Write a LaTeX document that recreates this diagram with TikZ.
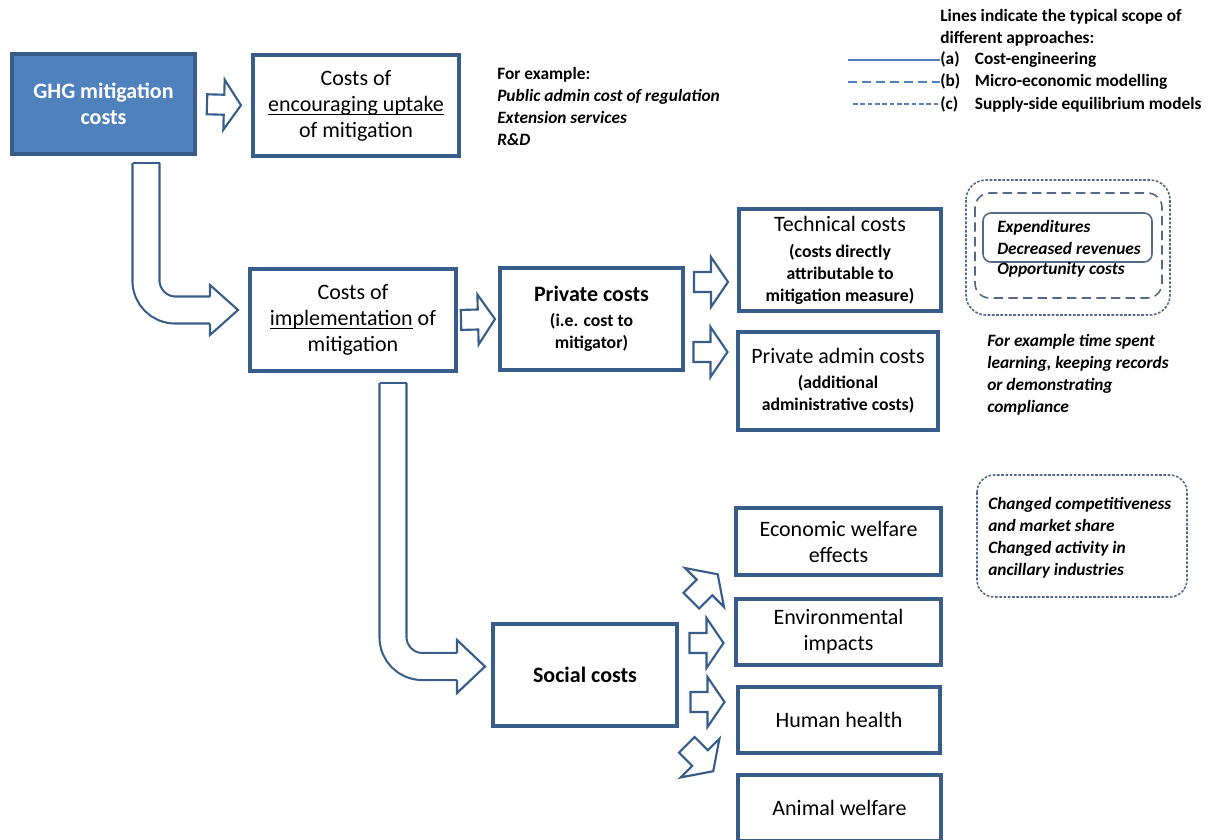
\documentclass[tikz,border=0pt]{standalone}
\usepackage{fontspec}
\setmainfont{Carlito}
\usepackage{tikz}
\usetikzlibrary{calc}

\definecolor{boxblue}{RGB}{56,93,138}
\definecolor{ghgfill}{RGB}{79,129,189}
\definecolor{lineblue}{RGB}{79,129,189}
\definecolor{scopegrey}{RGB}{84,106,138}

\newcommand{\smalltxt}{\fontsize{13.3}{16.5}\selectfont\bfseries}
\newcommand{\ulword}[1]{\setbox0\hbox{#1}\rlap{\rule[-2.6pt]{\wd0}{0.7pt}}\box0\relax}

\tikzset{
  box/.style={draw=boxblue, line width=3pt, fill=white, align=center, inner sep=2pt,
    font=\fontsize{16.5}{19.5}\selectfont},
  subbox/.style={box, font=\fontsize{16.5}{16.5}\selectfont},
  note/.style={anchor=west, align=left, inner sep=0pt,
    font=\fontsize{13}{16.5}\selectfont\bfseries\itshape},
  legtxt/.style={anchor=west, align=left, inner sep=0pt,
    font=\fontsize{13}{16.5}\selectfont\bfseries},
  arrline/.style={draw=boxblue, line width=1.6pt, line join=miter},
  fatshaft/.style={draw=boxblue, line width=1.6pt, double=white, double distance=18.65pt},
  fathead/.style={arrline, fill=white},
  pics/blockarr/.style={code={
    \draw[arrline, fill=white] (-17,-10) -- (0,-10) -- (0,-25) -- (17,0) -- (0,25) -- (0,10) -- (-17,10) -- cycle;}},
}

\begin{document}
\begin{tikzpicture}[x=0.75pt,y=-0.75pt]
\useasboundingbox (0,0) rectangle (1212,839);

% boxes
\node[box, fill=ghgfill, text=white, font=\fontsize{16.5}{19.5}\selectfont\bfseries,
  minimum width=137.25pt, minimum height=75pt] (ghg) at (103.5,104) {GHG mitigation\\costs};
\node[box, minimum width=154.5pt, minimum height=75.75pt] (enc) at (356,105.5) {Costs of\\\ulword{encouraging uptake}\\of mitigation};
\node[box, minimum width=154.5pt, minimum height=76.5pt] (imp) at (353,320) {Costs of\\\ulword{implementation} of\\mitigation};
\node[subbox, minimum width=137.25pt, minimum height=76.5pt] (priv) at (591.5,319) {\textbf{Private costs}\\[2pt]\smalltxt (i.e. cost to\\\smalltxt mitigator)};
\node[subbox, minimum width=151.5pt, minimum height=76.5pt] (tech) at (840,260) {Technical costs\\[3pt]\smalltxt (costs directly\\\smalltxt attributable to\\\smalltxt mitigation measure)};
\node[subbox, minimum width=150pt, minimum height=73.5pt] (padm) at (838,381) {Private admin costs\\[2pt]\smalltxt (additional\\\smalltxt administrative costs)};
\node[box, minimum width=138pt, minimum height=76.5pt] (soc) at (585,675) {\textbf{Social costs}};
\node[box, minimum width=153.75pt, minimum height=50.25pt] (econ) at (838.5,541.5) {Economic welfare\\effects};
\node[box, minimum width=153.75pt, minimum height=49.5pt] (env) at (838.5,632) {Environmental\\impacts};
\node[box, minimum width=151.5pt, minimum height=49.5pt] (hum) at (839,720) {Human health};
\node[box, minimum width=152.25pt, minimum height=49.5pt] (anim) at (839.5,808) {Animal welfare};

% block arrows
\path (ghg.east) -- (enc.west) pic[pos=.5, sloped] {blockarr};
\path (imp.east) -- (priv.west) pic[pos=.5, sloped] {blockarr};
\path ($(priv.east)+(0,-37)$) -- ($(tech.west)+(0,22)$) pic[pos=.5, sloped] {blockarr};
\path ($(priv.east)+(0,33)$) -- ($(padm.west)+(0,-29)$) pic[pos=.5, sloped] {blockarr};
\pic[rotate=45, scale=1.1] at ($($(soc.north east)+(-2,-4)$)!.5!($(econ.south west)+(-2,-20)$)$) {blockarr};
\path ($(soc.east)+(0,-32)$) -- ($(env.west)+(0,11)$) pic[pos=.5, sloped] {blockarr};
\path ($(soc.east)+(0,27)$) -- ($(hum.west)+(0,-18)$) pic[pos=.5, sloped] {blockarr};
\pic[rotate=-45, scale=1.1] at ($($(soc.south east)+(-4,5)$)!.5!($(anim.north west)+(-11,10)$)$) {blockarr};

% bent arrows
\draw[fatshaft, rounded corners=22pt] ($(ghg.south east)+(-51,7)$) |- ($(imp.west)+(-38,-10)$);
\draw[arrline] ($(ghg.south east)+(-64.5,7)$) -- ++(27,0);
\draw[fathead] ($(imp.west)+(-38,-23.5)$) -- ++(0,-11.5) -- ($(imp.west)+(-10,-10)$) -- ($(imp.west)+(-38,15)$) -- ++(0,-11.5);

\draw[fatshaft, rounded corners=22pt] ($(imp.south east)+(-65,10)$) |- ($(soc.west)+(-34,-8.5)$);
\draw[arrline] ($(imp.south east)+(-78.5,10)$) -- ++(27,0);
\draw[fathead] ($(soc.west)+(-34,-22)$) -- ++(0,-13) -- ($(soc.west)+(-6,-8.5)$) -- ($(soc.west)+(-34,18)$) -- ++(0,-13);

% notes
\node[note] (forex) at (497,106) {\upshape For example:\\Public admin cost of regulation\\Extension services\\R\&D};

% legend
\node[legtxt] (legtitle) at (940,28) {Lines indicate the typical scope of\\different approaches:};
\node[legtxt] (lga) at (940,60) {\makebox[26pt][l]{(a)}Cost-engineering};
\node[legtxt] (lgb) at (940,82) {\makebox[26pt][l]{(b)}Micro-economic modelling};
\node[legtxt] (lgc) at (940,104) {\makebox[26pt][l]{(c)}Supply-side equilibrium models};
\draw[lineblue, line width=0.9pt] (848,60) -- (lga.west);
\draw[lineblue, line width=0.9pt, dash pattern=on 7pt off 3.5pt] (848,82) -- (lgb.west);
\draw[lineblue, line width=0.9pt, dash pattern=on 3.5pt off 2pt] (853,104) -- (lgc.west);

% scope of technical costs
\draw[scopegrey, line width=1.2pt, dash pattern=on 2pt off 1.2pt, rounded corners=15pt] (966,180) rectangle (1170,315);
\draw[scopegrey, line width=1.2pt, dash pattern=on 7pt off 4pt, rounded corners=11pt] (975,193) rectangle (1162,298);
\draw[scopegrey, line width=1.2pt, rounded corners=6pt] (983,213) rectangle (1152,262);
\node[note] (expd) at (997,237.5) {Expenditures\\Decreased revenues};
\node[note] (opp) at (997,270) {Opportunity costs};

\node[note] (admnote) at (987,375) {For example time spent\\learning, keeping records\\or demonstrating\\compliance};

\draw[scopegrey, line width=1.2pt, dash pattern=on 2pt off 1.2pt, rounded corners=13pt] (977,475) rectangle (1187,597);
\node[note] (socnote) at (988,537.5) {Changed competitiveness\\and market share\\Changed activity in\\ancillary industries};

\end{tikzpicture}
\end{document}
